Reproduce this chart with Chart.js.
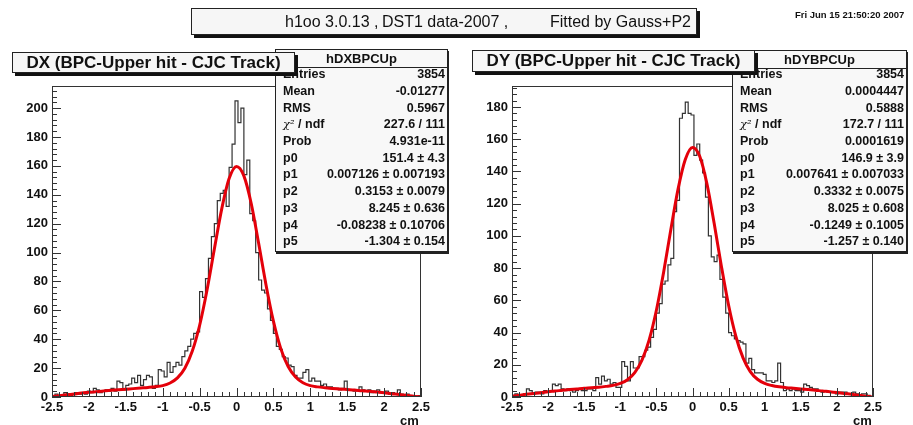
<!DOCTYPE html>
<html>
<head>
<meta charset="utf-8">
<script src="https://cdn.jsdelivr.net/npm/chart.js@4.4.1/dist/chart.umd.min.js"></script>
<style>
  body { margin: 0; background: #fff; }
  #page { position: relative; width: 913px; height: 425px; overflow: hidden; font-family: "Liberation Sans", Arial, sans-serif; color: #111; }
  canvas { position: absolute; top: 0; }
  .pave { position: absolute; box-sizing: border-box; background: #f6f6f6; border: 1px solid #222; }
  .title { box-shadow: 3px 3px 0 #111; }
  .stats { box-shadow: 1px 2px 0 #222; background: #f8f8f8; }
  .stats .head { position: absolute; left: 0; right: 0; top: 0; height: 17px; border-bottom: 1px solid #222; font: bold 13px "Liberation Sans", Arial, sans-serif; line-height: 17px; text-align: center; }
  .row { position: absolute; left: 7px; right: 2px; height: 15px; line-height: 15px; font: bold 12.5px "Liberation Sans", Arial, sans-serif; display: flex; justify-content: space-between; }
  .chi { font-family: "DejaVu Serif", serif; font-style: italic; font-weight: normal; font-size: 11.5px; }
  .pt { position: absolute; left: 0; right: 0; top: 0; bottom: 0; text-align: center; font: bold 17px "Liberation Sans", Arial, sans-serif; line-height: 20px; }
  .lbl { position: absolute; white-space: pre; }
</style>
</head>
<body>
<div id="page">
  <canvas id="dxChart" width="460" height="425" style="left:0"></canvas>
  <canvas id="dyChart" width="453" height="425" style="left:460px"></canvas>

  <div class="pave title" style="left:191px; top:8px; width:506px; height:27px;">
    <span class="lbl" style="left:93px; top:4px; font-size:16px;">h1oo 3.0.13 ,</span>
    <span class="lbl" style="left:190px; top:4px; font-size:16px;">DST1 data-2007 ,</span>
    <span class="lbl" style="left:358px; top:4px; font-size:16px;">Fitted by Gauss+P2</span>
  </div>
  <div class="lbl" style="left:795px; top:9px; font: bold 9.5px 'Liberation Sans', Arial, sans-serif;">Fri Jun 15 21:50:20 2007</div>

  <div class="pave stats" style="left:275px; top:49px; width:173px; height:203px;">
    <div class="head">hDXBPCUp</div>
    <div class="row" style="top:17px"><span>Entries</span><span>3854</span></div>
    <div class="row" style="top:34px"><span>Mean</span><span>-0.01277</span></div>
    <div class="row" style="top:51px"><span>RMS</span><span>0.5967</span></div>
    <div class="row" style="top:67px"><span><span class="chi">χ²</span> / ndf</span><span>227.6 / 111</span></div>
    <div class="row" style="top:84px"><span>Prob</span><span>4.931e-11</span></div>
    <div class="row" style="top:101px"><span>p0</span><span>151.4 ± 4.3</span></div>
    <div class="row" style="top:117px"><span>p1</span><span>0.007126 ± 0.007193</span></div>
    <div class="row" style="top:134px"><span>p2</span><span>0.3153 ± 0.0079</span></div>
    <div class="row" style="top:151px"><span>p3</span><span>8.245 ± 0.636</span></div>
    <div class="row" style="top:168px"><span>p4</span><span>-0.08238 ± 0.10706</span></div>
    <div class="row" style="top:184px"><span>p5</span><span>-1.304 ± 0.154</span></div>
  </div>
  <div class="pave title" style="left:12px; top:52px; width:283px; height:21px;"><div class="pt">DX (BPC-Upper hit - CJC Track)</div></div>

  <div class="pave stats" style="left:732px; top:50px; width:175px; height:202px;">
    <div class="head">hDYBPCUp</div>
    <div class="row" style="top:16px"><span>Entries</span><span>3854</span></div>
    <div class="row" style="top:33px"><span>Mean</span><span>0.0004447</span></div>
    <div class="row" style="top:50px"><span>RMS</span><span>0.5888</span></div>
    <div class="row" style="top:66px"><span><span class="chi">χ²</span> / ndf</span><span>172.7 / 111</span></div>
    <div class="row" style="top:83px"><span>Prob</span><span>0.0001619</span></div>
    <div class="row" style="top:100px"><span>p0</span><span>146.9 ± 3.9</span></div>
    <div class="row" style="top:116px"><span>p1</span><span>0.007641 ± 0.007033</span></div>
    <div class="row" style="top:133px"><span>p2</span><span>0.3332 ± 0.0075</span></div>
    <div class="row" style="top:150px"><span>p3</span><span>8.025 ± 0.608</span></div>
    <div class="row" style="top:167px"><span>p4</span><span>-0.1249 ± 0.1005</span></div>
    <div class="row" style="top:183px"><span>p5</span><span>-1.257 ± 0.140</span></div>
  </div>
  <div class="pave title" style="left:472px; top:50px; width:283px; height:22px;"><div class="pt">DY (BPC-Upper hit - CJC Track)</div></div>

  <div class="lbl" style="left:400px; top:413px; font: bold 13px 'Liberation Sans', Arial, sans-serif;">cm</div>
  <div class="lbl" style="left:853px; top:413px; font: bold 13px 'Liberation Sans', Arial, sans-serif;">cm</div>
</div>
<script>
// histogram binning: 125 bins of 0.04 cm from -2.5 to 2.5
const binLow = -2.5;
const binWidth = 0.04;

const dxCounts = [
  1, 2, 0, 1, 3, 2, 1, 2, 3, 2,
  3, 2, 4, 3, 6, 5, 3, 4, 5, 4,
  6, 4, 11, 10, 5, 8, 9, 13, 10, 15,
  8, 12, 15, 14, 6, 8, 19, 18, 14, 24,
  17, 21, 24, 22, 28, 32, 35, 40, 44, 45,
  73, 69, 82, 96, 111, 120, 136, 141, 143, 132,
  159, 175, 205, 190, 200, 154, 164, 127, 122, 100,
  81, 74, 72, 61, 53, 44, 35, 33, 28, 27,
  22, 21, 15, 13, 13, 17, 19, 11, 13, 11,
  11, 8, 9, 7, 7, 6, 6, 5, 6, 11,
  5, 5, 4, 5, 7, 5, 4, 5, 3, 4,
  5, 3, 3, 4, 2, 3, 2, 5, 2, 1,
  2, 1, 1, 0, 1,
];

const dyCounts = [
  1, 2, 1, 0, 2, 5, 4, 2, 3, 3,
  2, 4, 3, 4, 8, 7, 8, 5, 4, 5,
  4, 3, 4, 5, 4, 4, 5, 5, 4, 12,
  8, 13, 10, 11, 8, 9, 6, 6, 22, 19,
  10, 22, 18, 18, 25, 25, 29, 31, 37, 42,
  52, 58, 70, 72, 82, 86, 115, 122, 173, 176,
  183, 176, 175, 150, 157, 147, 139, 124, 100, 87,
  84, 88, 73, 62, 52, 40, 38, 36, 35, 34,
  33, 21, 24, 17, 15, 15, 15, 14, 10, 10,
  9, 10, 21, 9, 4, 5, 4, 5, 4, 4,
  3, 8, 7, 6, 5, 5, 4, 3, 4, 3,
  3, 3, 2, 3, 3, 3, 2, 2, 3, 2,
  1, 2, 2, 1, 0,
];

// fitted Gauss+P2 curves, read at 0.1 cm steps
const fitX = [
  -2.5, -2.4, -2.3, -2.2, -2.1, -2.0, -1.9, -1.8, -1.7, -1.6,
  -1.5, -1.4, -1.3, -1.2, -1.1, -1.0, -0.9, -0.8, -0.7, -0.6,
  -0.5, -0.4, -0.3, -0.2, -0.1, 0.0, 0.1, 0.2, 0.3, 0.4,
  0.5, 0.6, 0.7, 0.8, 0.9, 1.0, 1.1, 1.2, 1.3, 1.4,
  1.5, 1.6, 1.7, 1.8, 1.9, 2.0, 2.1, 2.2, 2.3, 2.4, 2.5,
];
const dxFit = [
  0.3, 0.9, 1.5, 2.1, 2.7, 3.2, 3.7, 4.2, 4.6, 5.0,
  5.4, 5.8, 6.2, 6.6, 7.1, 7.9, 9.7, 13.2, 19.9, 31.6,
  49.5, 73.9, 102.4, 130.2, 151.2, 159.6, 153.1, 133.8, 106.4, 77.6,
  52.5, 33.5, 21.1, 13.8, 9.9, 7.9, 7.0, 6.4, 5.9, 5.6,
  5.2, 4.8, 4.3, 3.9, 3.4, 2.9, 2.3, 1.8, 1.2, 0.5, 0,
];
const dyFit = [
  0.5, 1.1, 1.7, 2.2, 2.7, 3.3, 3.7, 4.2, 4.6, 5.0,
  5.4, 5.7, 6.1, 6.6, 7.2, 8.4, 10.7, 15.1, 22.9, 35.5,
  53.8, 77.4, 103.9, 129.0, 147.4, 154.9, 149.4, 132.3, 107.8, 81.2,
  56.9, 37.7, 24.3, 15.8, 11.0, 8.4, 7.1, 6.3, 5.8, 5.4,
  5.0, 4.6, 4.2, 3.7, 3.3, 2.8, 2.2, 1.7, 1.1, 0.5, 0,
];

const xTickStep = 0.5;
const yTickStep = 20;

Chart.defaults.font.family = '"Liberation Sans", Arial, sans-serif';

// ROOT style frame with ticks pointing into the plot
const rootFrame = {
  id: 'rootFrame',
  afterDatasetsDraw(chart) {
    const { ctx, chartArea: a } = chart;
    const xs = chart.scales.x;
    const ys = chart.scales.y;
    ctx.save();
    ctx.strokeStyle = '#333';
    ctx.lineWidth = 1;
    ctx.strokeRect(a.left + 0.5, a.top + 0.5, a.right - a.left - 1, a.bottom - a.top - 1);
    ctx.beginPath();
    for (let i = 0; i <= 50; i++) {
      const px = Math.round(xs.getPixelForValue(xs.min + i * 0.1)) + 0.5;
      const len = i % 5 === 0 ? 9 : 5;
      ctx.moveTo(px, a.bottom);
      ctx.lineTo(px, a.bottom - len);
    }
    for (let i = 0; i * 4 <= ys.max; i++) {
      const py = Math.round(ys.getPixelForValue(i * 4)) + 0.5;
      const len = i % 5 === 0 ? 9 : 5;
      ctx.moveTo(a.left, py);
      ctx.lineTo(a.left + len, py);
    }
    ctx.stroke();
    ctx.restore();
  },
};

function makeHistChart(id, counts, fit, yMax, rightPad) {
  const ctx = document.getElementById(id).getContext('2d');

  const hist = [{ x: binLow, y: 0 }];
  counts.forEach((v, k) => hist.push({ x: binLow + k * binWidth, y: v }));
  const binHigh = binLow + counts.length * binWidth;
  hist.push({ x: binHigh, y: counts[counts.length - 1] });
  hist.push({ x: binHigh, y: 0 });

  const curve = fitX.map((x, i) => ({ x: x, y: fit[i] }));

  const tickFont = { size: 13, weight: 'bold' };

  return new Chart(ctx, {
    type: 'line',
    data: {
      datasets: [
        {
          data: curve,
          borderColor: '#e4000a',
          borderWidth: 3,
          pointRadius: 0,
          cubicInterpolationMode: 'monotone',
          order: 0,
        },
        {
          data: hist,
          stepped: 'before',
          borderColor: '#333333',
          borderWidth: 1.2,
          pointRadius: 0,
          order: 1,
        },
      ],
    },
    options: {
      responsive: false,
      animation: false,
      events: [],
      layout: { padding: { top: 86, right: rightPad, left: 0, bottom: 0 } },
      plugins: {
        legend: { display: false },
        tooltip: { enabled: false },
      },
      scales: {
        x: {
          type: 'linear',
          min: -2.5,
          max: 2.5,
          afterFit(scale) { scale.height = 28; },
          grid: { display: false, drawTicks: false },
          border: { display: false },
          ticks: {
            stepSize: xTickStep,
            padding: 3,
            color: '#111',
            font: tickFont,
            maxRotation: 0,
            autoSkip: false,
            callback: (v) => String(Math.round(v * 10) / 10),
          },
        },
        y: {
          type: 'linear',
          min: 0,
          max: yMax,
          afterFit(scale) { scale.width = 52; },
          grid: { display: false, drawTicks: false },
          border: { display: false },
          ticks: {
            stepSize: yTickStep,
            includeBounds: false,
            padding: 4,
            color: '#111',
            font: tickFont,
            callback: (v) => String(v),
          },
        },
      },
    },
    plugins: [rootFrame],
  });
}

makeHistChart('dxChart', dxCounts, dxFit, 215.3, 39);
makeHistChart('dyChart', dyCounts, dyFit, 193, 40);
</script>
</body>
</html>
